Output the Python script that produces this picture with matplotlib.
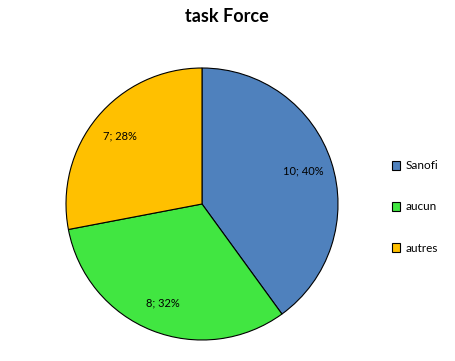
import matplotlib.pyplot as plt
import numpy as np

labels = ["Sanofi", "aucun", "autres"]
counts = [10, 8, 7]
colors = ["#4F81BD", "#41E641", "#FFC000"]

plt.rcParams['font.family'] = ['Lato', 'DejaVu Sans']

fig = plt.figure(figsize=(4.56, 3.61), dpi=100)
ax = fig.add_axes([(202 - 136) / 456, (361 - 204 - 136) / 361, 272 / 456, 272 / 361])

total = sum(counts)

def fmt(pct):
    n = int(round(pct * total / 100.0))
    return "%d; %d%%" % (n, round(pct))

wedges, texts, autotexts = ax.pie(
    counts, colors=colors, startangle=90, counterclock=False,
    autopct=fmt, pctdistance=0.78,
    wedgeprops=dict(edgecolor="black", linewidth=0.8),
    textprops=dict(fontsize=8, color="black"))
ax.set_xlim(-1, 1)
ax.set_ylim(-1, 1)
ax.set_aspect("auto")

fig.text(227 / 456, 1 - 17 / 361, "task Force", ha="center", va="center",
         fontsize=13, fontweight="bold")

leg = fig.legend(wedges, labels, loc="center left",
                 bbox_to_anchor=(381 / 456, 1 - 207 / 361),
                 frameon=False, fontsize=8.5, labelspacing=2.55,
                 handlelength=0.75, handleheight=0.75, handletextpad=0.4)

fig.savefig("out.png", dpi=100)
